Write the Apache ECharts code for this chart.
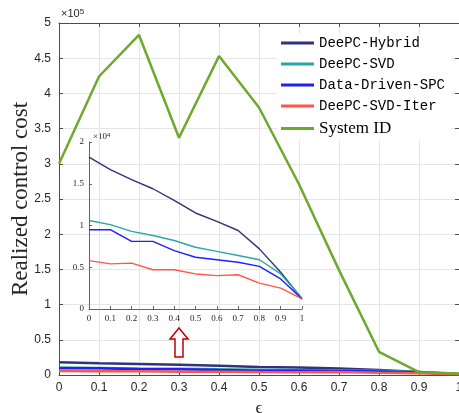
<!DOCTYPE html>
<html>
<head>
<meta charset="utf-8">
<script src="https://cdn.jsdelivr.net/npm/echarts@6/dist/echarts.min.js"></script>
<style>
	html, body { margin: 0; padding: 0; background: #fff; }
	#chart { width: 459px; height: 413px; }
</style>
</head>
<body>
<div id="chart"></div>
<script>
	'use strict'

	// epsilon values (x axis)
	var eps = [0, 0.1, 0.2, 0.3, 0.4, 0.5, 0.6, 0.7, 0.8, 0.9, 1];

	// costs in units of 1e4 (inset scale)
	var hybrid = [1.82, 1.67, 1.55, 1.44, 1.30, 1.15, 1.05, 0.94, 0.72, 0.44, 0.12];
	var svd = [1.06, 1.01, 0.93, 0.88, 0.82, 0.74, 0.69, 0.64, 0.59, 0.42, 0.13];
	var spc = [0.95, 0.95, 0.81, 0.81, 0.70, 0.62, 0.59, 0.56, 0.51, 0.36, 0.12];
	var iter = [0.58, 0.54, 0.55, 0.47, 0.47, 0.42, 0.40, 0.41, 0.31, 0.25, 0.12];

	// system ID cost in units of 1e5 (main scale)
	var sysId = [3.0, 4.24, 4.83, 3.37, 4.53, 3.80, 2.71, 1.49, 0.33, 0.04, 0.02];

	var names = ['DeePC-Hybrid', 'DeePC-SVD', 'Data-Driven-SPC', 'DeePC-SVD-Iter', 'System ID'];
	var colors = ['#31347a', '#2ba6a6', '#1f1fff', '#ff5747', '#6fa82e'];

	function pairs(vals, scale) {
		return eps.map(function(x, i) { return [x, vals[i] * scale]; });
	}

	var axisCol = '#4d4d4d';
	var txtCol = '#262626';

	var series = [];
	[hybrid, svd, spc, iter].forEach(function(v, k) {
		series.push({
			name: names[k],
			type: 'line',
			xAxisIndex: 0,
			yAxisIndex: 0,
			data: pairs(v, 0.1),
			symbol: 'none',
			lineStyle: { width: 2.5, color: colors[k] },
			itemStyle: { color: colors[k] }
		});
	});
	series.push({
		name: names[4],
		type: 'line',
		xAxisIndex: 0,
		yAxisIndex: 0,
		data: pairs(sysId, 1),
		symbol: 'none',
		lineStyle: { width: 2.5, color: colors[4] },
		itemStyle: { color: colors[4] }
	});
	/*--inset--*/
	[hybrid, svd, spc, iter].forEach(function(v, k) {
		series.push({
			name: names[k],
			type: 'line',
			xAxisIndex: 2,
			yAxisIndex: 2,
			data: pairs(v, 1),
			symbol: 'none',
			lineStyle: { width: 1.4, color: colors[k] },
			itemStyle: { color: colors[k] },
			z: 5
		});
	});

	var option = {
		animation: false,
		grid: [
			{ left: 59, right: 0, top: 23, bottom: 38, outerBoundsMode: 'none', containLabel: false },
			{ left: 89, top: 142, width: 213, height: 167, outerBoundsMode: 'none', containLabel: false }
		],
		xAxis: [
			{
				type: 'value', gridIndex: 0, min: 0, max: 1, interval: 0.1,
				axisLine: { lineStyle: { color: axisCol } },
				axisTick: { inside: true, length: 4, lineStyle: { color: axisCol } },
				axisLabel: { color: txtCol, fontSize: 12, fontFamily: 'Liberation Sans', margin: 7 },
				splitLine: { lineStyle: { color: '#e6e6e6' } },
				name: 'ϵ', nameLocation: 'middle', nameGap: 25,
				nameTextStyle: { color: txtCol, fontSize: 17, fontFamily: 'Liberation Serif' }
			},
			{
				type: 'value', gridIndex: 0, min: 0, max: 1, interval: 0.1, position: 'top',
				axisLine: { onZero: false, lineStyle: { color: axisCol } },
				axisTick: { inside: true, length: 4, lineStyle: { color: axisCol } },
				axisLabel: { show: false },
				splitLine: { show: false }
			},
			{
				type: 'value', gridIndex: 1, min: 0, max: 1, interval: 0.1,
				axisLine: { lineStyle: { color: '#666' } },
				axisTick: { inside: true, length: 3, lineStyle: { color: '#666' } },
				axisLabel: { color: txtCol, fontSize: 9, fontFamily: 'Liberation Serif', margin: 5 },
				splitLine: { show: false }
			}
		],
		yAxis: [
			{
				type: 'value', gridIndex: 0, min: 0, max: 5, interval: 0.5,
				axisLine: { show: true, lineStyle: { color: axisCol } },
				axisTick: { show: true, inside: true, length: 4, lineStyle: { color: axisCol } },
				axisLabel: { color: txtCol, fontSize: 12, fontFamily: 'Liberation Sans', margin: 8 },
				splitLine: { lineStyle: { color: '#e6e6e6' } },
				name: 'Realized control cost', nameLocation: 'middle', nameGap: 27,
				nameMoveOverlap: false,
				nameTextStyle: { color: txtCol, fontSize: 23, fontFamily: 'Liberation Serif' }
			},
			{
				type: 'value', gridIndex: 0, min: 0, max: 5, interval: 0.5, position: 'right',
				axisLine: { show: true, onZero: false, lineStyle: { color: axisCol } },
				axisTick: { show: true, inside: true, length: 4, lineStyle: { color: axisCol } },
				axisLabel: { show: false },
				splitLine: { show: false }
			},
			{
				type: 'value', gridIndex: 1, min: 0, max: 2, interval: 0.5,
				axisLine: { show: true, lineStyle: { color: '#666' } },
				axisTick: { show: true, inside: true, length: 3, lineStyle: { color: '#666' } },
				axisLabel: { color: txtCol, fontSize: 9, fontFamily: 'Liberation Serif', margin: 5 },
				splitLine: { show: false }
			}
		],
		legend: {
			data: names,
			orient: 'vertical',
			left: 277,
			top: 34,
			padding: [2, 6, 3, 4],
			backgroundColor: '#fff',
			icon: 'rect',
			itemWidth: 33,
			itemHeight: 3,
			itemGap: 7,
			formatter: function(n) {
				return n === 'System ID' ? '{s|' + n + '}' : '{m|' + n + '}';
			},
			textStyle: {
				color: '#000',
				rich: {
					m: { fontFamily: 'Liberation Mono', fontSize: 14, color: '#000' },
					s: { fontFamily: 'Liberation Serif', fontSize: 17, color: '#000' }
				}
			}
		},
		graphic: [
			{
				type: 'text', left: 61, top: 8,
				style: { text: '×10{a|5}', fill: txtCol, font: '11px Liberation Sans',
					rich: { a: { fontSize: 8, verticalAlign: 'top', fill: txtCol } } }
			},
			{
				type: 'text', left: 93, top: 132,
				style: { text: '×10{a|4}', fill: txtCol, font: '9px Liberation Serif',
					rich: { a: { fontSize: 6, verticalAlign: 'top', fill: txtCol } } }
			},
			{
				type: 'polygon',
				shape: { points: [[179, 328], [188, 339], [183, 339], [183, 357], [175, 357], [175, 339], [170, 339]] },
				style: { fill: '#fff', stroke: '#c00000', lineWidth: 1.5 },
				z: 10
			}
		],
		series: series
	};

	var chart = echarts.init(document.getElementById('chart'));
	chart.setOption(option);
</script>
</body>
</html>
